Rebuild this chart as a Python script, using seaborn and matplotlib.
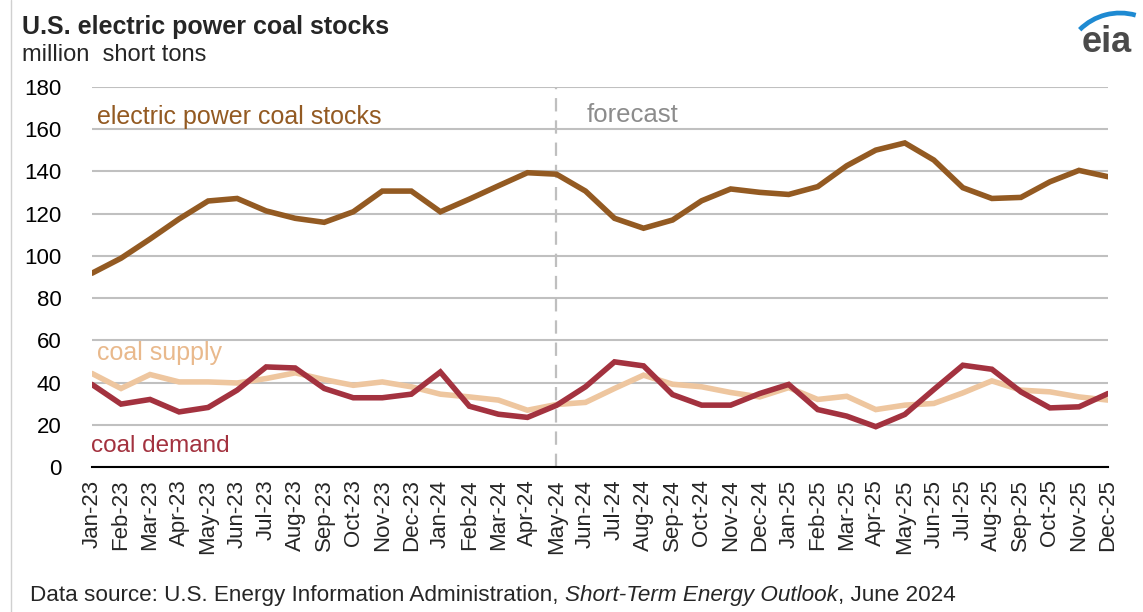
import numpy as np
import pandas as pd
import matplotlib
matplotlib.use("Agg")
import matplotlib.pyplot as plt
from matplotlib.patches import Arc
import seaborn as sns

# Monthly series, Jan-2023 through Dec-2025 (million short tons)
months = pd.date_range("2023-01-01", "2025-12-01", freq="MS").strftime("%b-%y").tolist()

stocks = [91.8, 98.9, 108.0, 117.5, 126.0, 127.2, 121.3, 117.8, 115.9, 120.9, 130.7, 130.7,
          120.9, 126.9, 133.2, 139.4, 138.7, 130.7, 117.8, 113.1, 117.0, 126.1, 131.7, 130.1,
          129.1, 132.8, 142.7, 150.1, 153.5, 145.4, 132.3, 127.2, 127.7, 135.1, 140.5, 137.5]

supply = [44.3, 37.2, 43.8, 40.3, 40.3, 39.8, 41.9, 44.6, 41.4, 38.7, 40.3, 38.0,
          34.5, 33.2, 31.7, 26.9, 29.6, 30.6, 37.2, 43.5, 39.2, 38.0, 35.3, 33.2,
          37.6, 32.0, 33.5, 27.2, 29.3, 30.1, 35.1, 40.8, 36.4, 35.6, 33.2, 31.7]

demand = [39.1, 29.8, 32.0, 26.1, 28.2, 36.4, 47.4, 46.9, 37.2, 32.8, 32.8, 34.5,
          45.0, 28.8, 25.0, 23.5, 29.2, 38.0, 49.8, 47.9, 34.3, 29.3, 29.3, 34.8,
          39.1, 27.2, 24.1, 19.1, 24.9, 36.7, 48.2, 46.3, 35.6, 28.0, 28.5, 34.8]

series_names = ["electric power coal stocks", "coal supply", "coal demand"]
forecast_start = "May-24"

c_stocks = "#935A22"
c_supply = "#EEC69F"
c_demand = "#A3323F"
palette = {"electric power coal stocks": c_stocks, "coal supply": c_supply, "coal demand": c_demand}

df = pd.DataFrame({
    "idx": np.tile(np.arange(len(months)), 3),
    "value": stocks + supply + demand,
    "series": np.repeat(series_names, len(months)),
})

sns.set_style("white")
plt.rcParams["font.family"] = ["Liberation Sans", "DejaVu Sans"]

W, H = 1143, 612
fig = plt.figure(figsize=(W / 100, H / 100), dpi=100)
ax = fig.add_axes([92 / W, 1 - 467 / H, (1108 - 92) / W, (467 - 87) / H])

sns.lineplot(data=df, x="idx", y="value", hue="series", palette=palette,
             hue_order=["coal supply", "coal demand", "electric power coal stocks"],
             linewidth=4.0, ax=ax, legend=False, solid_joinstyle="miter")

# forecast divider
fx = months.index(forecast_start)
ax.axvline(fx, color="#BFBFBF", lw=1.6, ls=(0, (6, 4)), zorder=1)

ax.set_xlim(0, len(months) - 1)
ax.set_ylim(0, 180)
ax.set_yticks(np.arange(0, 181, 20))
ax.set_xticks(np.arange(len(months)))
ax.set_xticklabels(months, rotation=90, fontsize=16)
ax.tick_params(axis="y", length=0, labelsize=16, pad=22, colors="black")
ax.tick_params(axis="x", direction="out", length=6, width=1.3, color="black", pad=3)
ax.yaxis.grid(True, color="#C0C0C0", lw=1.5)
ax.xaxis.grid(False)
ax.set_axisbelow(True)
for s in ["left", "right", "top"]:
    ax.spines[s].set_visible(False)
ax.spines["bottom"].set_color("black")
ax.spines["bottom"].set_linewidth(1.5)
ax.spines["bottom"].set_zorder(5)
ax.set_xlabel("")
ax.set_ylabel("")

# in-plot series labels
ax.text(0.17, 166, "electric power coal stocks", color=c_stocks, fontsize=18, va="center", ha="left")
ax.text(fx + 1.05, 166.5, "forecast", color="#8C8C8C", fontsize=18.5, va="center", ha="left")
ax.text(0.17, 54, "coal supply", color="#E9B98C", fontsize=18, va="center", ha="left")
ax.text(-0.05, 10, "coal demand", color=c_demand, fontsize=17.5, va="center", ha="left")

# titles
fig.text(22 / W, 1 - 27 / H, "U.S. electric power coal stocks", fontsize=18, fontweight="bold",
         va="center", ha="left")
fig.text(22 / W, 1 - 55 / H, "million  short tons", fontsize=17, va="center", ha="left")

# source line with italic publication name
fig.canvas.draw()
renderer = fig.canvas.get_renderer()
x0 = 30 / W
y0 = 1 - 596 / H
parts = [("Data source: U.S. Energy Information Administration, ", "normal"),
         ("Short-Term Energy Outlook", "italic"),
         (", June 2024", "normal")]
for txt, style in parts:
    t = fig.text(x0, y0, txt, fontsize=16.2, style=style, va="center", ha="left")
    bb = t.get_window_extent(renderer=renderer)
    x0 += bb.width / W

# logo: wordmark with a swoosh, drawn in pixel space
logo_ax = fig.add_axes([0, 0, 1, 1], facecolor="none")
logo_ax.set_xlim(0, W)
logo_ax.set_ylim(H, 0)
logo_ax.axis("off")
logo_ax.text(1107, 43, "eia", fontsize=26, fontweight="bold", color="#4A4A4A",
             va="center", ha="center")
logo_ax.add_patch(Arc((1120, 70), 114, 114, theta1=-135, theta2=-74, color="#1E8AD2", lw=3.4))

# thin page border at left
logo_ax.plot([11, 11], [0, H], color="#D0D0D0", lw=1)

fig.savefig("out.png", dpi=100)
